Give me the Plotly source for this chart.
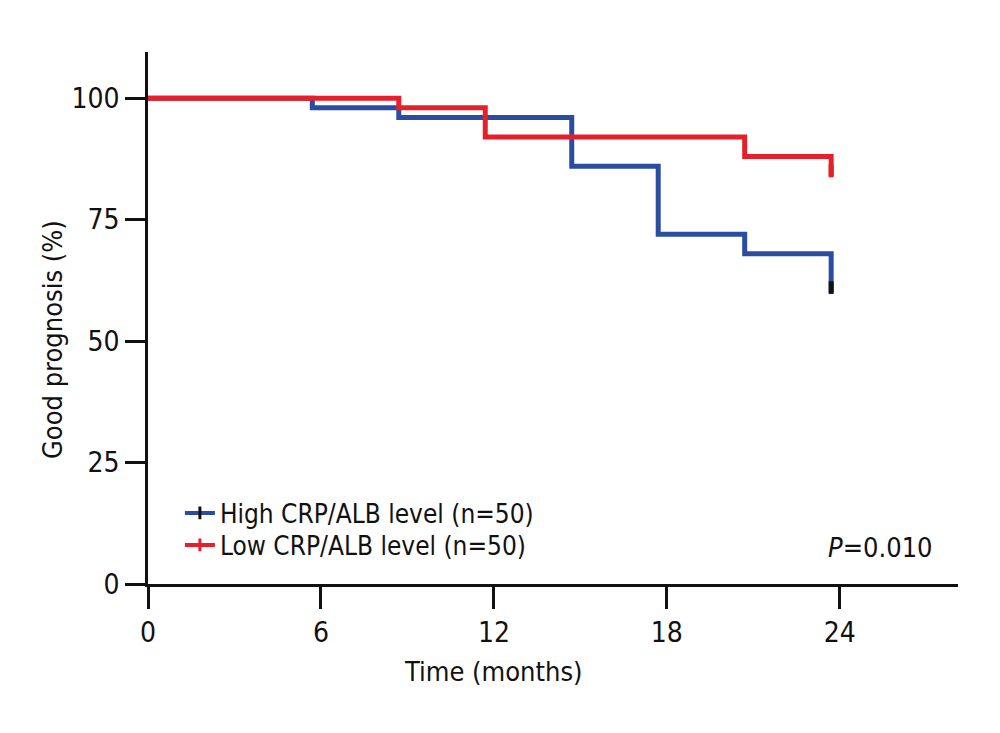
import plotly.graph_objects as go

# Kaplan-Meier style step data (time in months, % good prognosis)
HIGH_TIME = [0, 5.7, 8.7, 14.7, 17.7, 20.7, 23.7]
HIGH_SURV = [100, 98, 96, 86, 72, 68, 60]
LOW_TIME = [0, 8.7, 11.7, 20.7, 23.7]
LOW_SURV = [100, 98, 92, 88, 84]

HIGH_CENSOR_T = [23.7]
HIGH_CENSOR_S = [61]
LOW_CENSOR_T = [23.7]
LOW_CENSOR_S = [85]

X_TICKS = [0, 6, 12, 18, 24]
Y_TICKS = [0, 25, 50, 75, 100]

HIGH_LABEL = "High CRP/ALB level (n=50)"
LOW_LABEL = "Low CRP/ALB level (n=50)"
P_TEXT = "<i>P</i>=0.010"
X_TITLE = "Time (months)"
Y_TITLE = "Good prognosis (%)"

BLUE = "#2a4da1"
RED = "#e6202a"
BLACK = "#111111"
FONT = "Liberation Sans Narrow, DejaVu Sans Condensed, Arial Narrow, sans-serif"

fig = go.Figure()

fig.add_trace(go.Scatter(
    x=HIGH_TIME, y=HIGH_SURV, mode="lines",
    line=dict(color=BLUE, width=5, shape="hv"),
    showlegend=False, hoverinfo="skip"
))
fig.add_trace(go.Scatter(
    x=LOW_TIME, y=LOW_SURV, mode="lines",
    line=dict(color=RED, width=5, shape="hv"),
    showlegend=False, hoverinfo="skip"
))

# censor ticks
fig.add_trace(go.Scatter(
    x=HIGH_CENSOR_T, y=HIGH_CENSOR_S, mode="markers",
    marker=dict(symbol="line-ns", size=9, line=dict(color=BLACK, width=5)),
    showlegend=False, hoverinfo="skip"
))
fig.add_trace(go.Scatter(
    x=LOW_CENSOR_T, y=LOW_CENSOR_S, mode="markers",
    marker=dict(symbol="line-ns", size=9, line=dict(color=RED, width=5)),
    showlegend=False, hoverinfo="skip"
))

# legend entries, one legend each so the rows sit where they should
fig.add_trace(go.Scatter(
    x=[None], y=[None], mode="lines+markers", name=HIGH_LABEL, legend="legend",
    line=dict(color=BLUE, width=4),
    marker=dict(symbol="line-ns", size=9, line=dict(color=BLACK, width=3))
))
fig.add_trace(go.Scatter(
    x=[None], y=[None], mode="lines+markers", name=LOW_LABEL, legend="legend2",
    line=dict(color=RED, width=4),
    marker=dict(symbol="line-ns", size=9, line=dict(color=RED, width=3))
))

fig.add_annotation(
    text=P_TEXT, xref="paper", yref="paper", x=0.9716, y=0.0695,
    xanchor="right", yanchor="middle", showarrow=False,
    font=dict(size=27, color=BLACK, family=FONT)
)
fig.add_annotation(
    text=X_TITLE, xref="paper", yref="paper", x=0.427, y=-0.1654,
    xanchor="center", yanchor="middle", showarrow=False,
    font=dict(size=27, color=BLACK, family=FONT)
)
fig.add_annotation(
    text=Y_TITLE, xref="paper", yref="paper", x=-0.1185, y=0.4586,
    xanchor="center", yanchor="middle", showarrow=False, textangle=-90,
    font=dict(size=27, color=BLACK, family=FONT)
)

leg = dict(xanchor="left", yanchor="middle", bgcolor="rgba(0,0,0,0)",
           font=dict(size=26, family=FONT), itemwidth=30, borderwidth=0)

fig.update_layout(
    width=1000, height=733,
    paper_bgcolor="white", plot_bgcolor="white",
    margin=dict(l=148, r=42, t=52, b=149),
    font=dict(family=FONT, color=BLACK, size=27),
    legend=dict(leg, x=0.0394, y=0.1335),
    legend2=dict(leg, x=0.0394, y=0.0733),
)

fig.update_xaxes(
    range=[0, 28.1], tickvals=X_TICKS, showgrid=False, zeroline=False,
    showline=True, linecolor=BLACK, linewidth=2.5,
    ticks="outside", ticklen=22, tickwidth=2.5, tickcolor=BLACK,
    tickfont=dict(size=28), automargin=False
)
fig.update_yaxes(
    range=[0, 109.5], tickvals=Y_TICKS, showgrid=False, zeroline=False,
    showline=True, linecolor=BLACK, linewidth=2.5,
    ticks="outside", ticklen=20, tickwidth=2.5, tickcolor=BLACK,
    tickfont=dict(size=28), automargin=False
)

fig.write_html("out.html", config={"displayModeBar": False},
               post_script="document.body.style.margin='0px';")
